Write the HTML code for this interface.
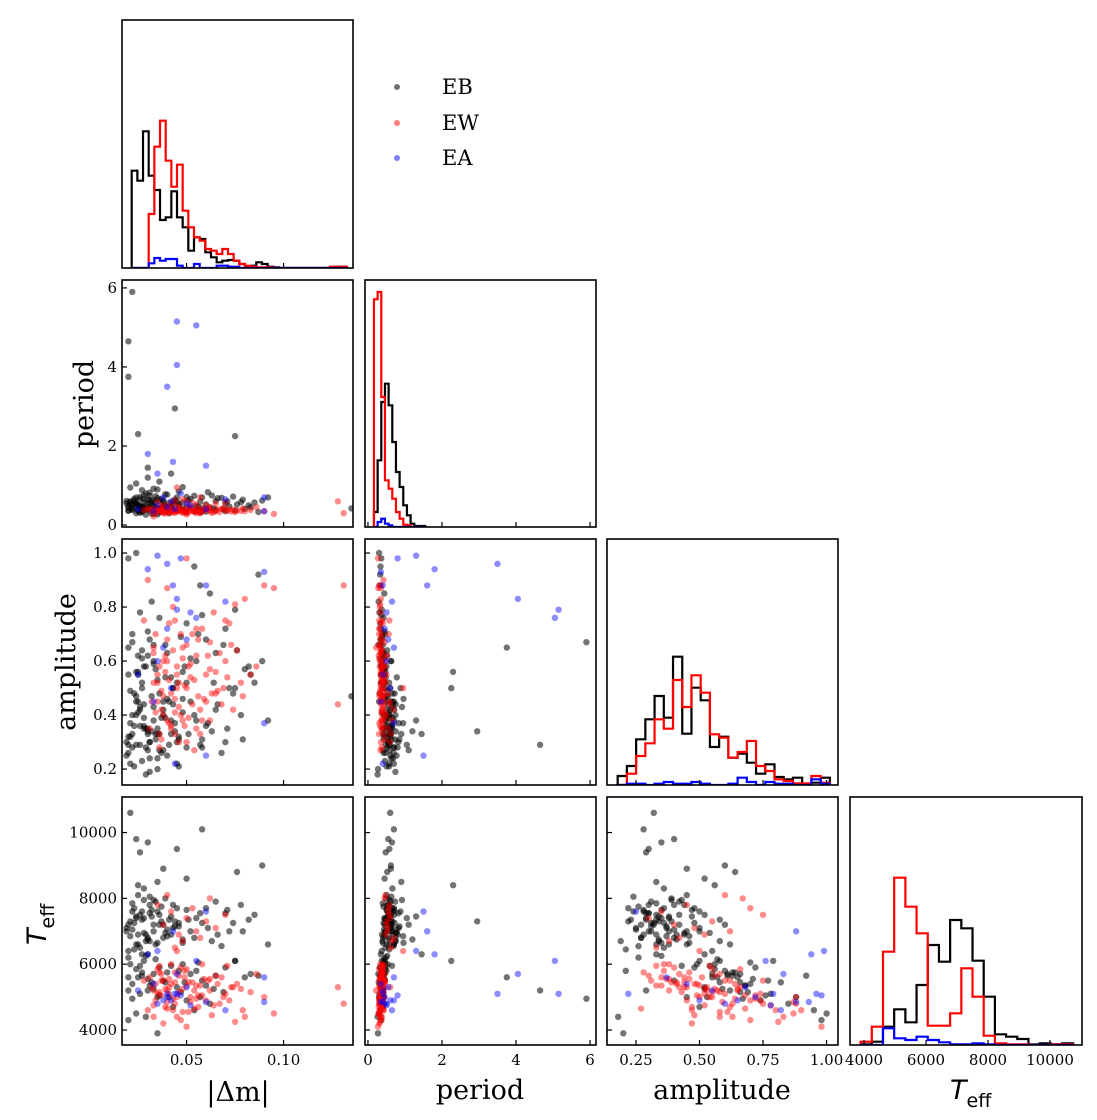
<!DOCTYPE html>
<html><head><meta charset="utf-8"><title>Corner plot</title>
<style>
html,body{margin:0;padding:0;background:#fff;}
svg{display:block;}
.tl{font-family:"DejaVu Serif","Liberation Serif",serif;font-size:15px;fill:#000;}
.al{font-family:"DejaVu Serif","Liberation Serif",serif;font-size:27px;fill:#000;}
.lg{font-family:"DejaVu Serif","Liberation Serif",serif;font-size:21px;fill:#000;}
</style></head>
<body>
<svg id="chart" width="1097" height="1120" viewBox="0 0 1097 1120" xmlns="http://www.w3.org/2000/svg">
<g id="legend">
  <g><circle cx="397" cy="87" r="3" fill="#000" fill-opacity="0.55"/><text class="lg" x="442" y="94">EB</text></g>
  <g><circle cx="397" cy="123" r="3" fill="#f00" fill-opacity="0.5"/><text class="lg" x="442" y="130">EW</text></g>
  <g><circle cx="397" cy="158" r="3" fill="#00f" fill-opacity="0.5"/><text class="lg" x="442" y="165">EA</text></g>
</g>
<text class="al" x="238" y="1101" text-anchor="middle">|Δm|</text>
<text class="al" x="480" y="1099" text-anchor="middle">period</text>
<text class="al" x="722" y="1099" text-anchor="middle">amplitude</text>
<text x="950" y="1099" font-family="DejaVu Sans,Liberation Sans,sans-serif" font-size="27" font-style="italic">T<tspan font-style="normal" font-size="19" dy="8">eff</tspan></text>
<text class="al" transform="translate(93,404) rotate(-90)" text-anchor="middle">period</text>
<text class="al" transform="translate(75,662) rotate(-90)" text-anchor="middle">amplitude</text>
<text transform="translate(46,945) rotate(-90)" font-family="DejaVu Sans,Liberation Sans,sans-serif" font-size="27" font-style="italic">T<tspan font-style="normal" font-size="19" dy="8">eff</tspan></text>
</svg>
<script>
// ---- data: objects [|dm|, period, amplitude, Teff] ----
const classes = ['EB','EW','EA'];
const ebRows = [
[0.020,0.45,0.32,7200],[0.022,0.52,0.28,7600],[0.025,0.38,0.41,6900],[0.019,0.61,0.25,7100],[0.028,0.44,0.35,7400],[0.031,0.55,0.30,7800],[0.024,0.70,0.45,6600],[0.033,0.48,0.38,7000],[0.027,0.35,0.52,6300],[0.021,0.58,0.22,7300],
[0.036,0.62,0.33,7500],[0.030,0.41,0.27,6800],[0.023,0.66,0.48,7700],[0.038,0.50,0.42,7200],[0.026,0.47,0.36,6500],[0.034,0.73,0.31,7900],[0.029,0.39,0.58,6700],[0.041,0.56,0.29,7350],[0.022,0.43,0.40,7050],[0.035,0.68,0.24,7600],
[0.040,0.45,0.46,6850],[0.032,0.59,0.34,7450],[0.025,0.51,0.62,6600],[0.044,0.64,0.37,7150],[0.037,0.42,0.26,7750],[0.028,0.75,0.44,6950],[0.046,0.53,0.32,7250],[0.020,0.37,0.55,6400],[0.039,0.49,0.39,8000],[0.031,0.82,0.30,7550],
[0.048,0.57,0.41,6750],[0.027,0.46,0.23,7350],[0.043,0.60,0.50,7100],[0.035,0.40,0.35,6650],[0.050,0.71,0.28,7650],[0.024,0.54,0.47,7450],[0.042,0.44,0.33,6900],[0.033,0.63,0.60,7200],[0.055,0.48,0.38,7400],[0.038,0.58,0.27,6800],
[0.052,0.66,0.45,7000],[0.060,0.52,0.36,7700],[0.058,0.42,0.31,7250],[0.065,0.61,0.42,7900],[0.070,0.55,0.30,7550],[0.072,0.47,0.50,7000],[0.063,0.75,0.34,6700],[0.078,0.58,0.40,7800],[0.082,0.50,0.58,7350],[0.068,0.69,0.26,6550],
[0.021,0.60,0.32,10600],[0.024,0.55,0.40,9800],[0.026,0.48,0.29,9400],[0.030,0.65,0.35,9700],[0.045,0.58,0.30,9500],[0.058,0.70,0.28,10100],[0.038,0.62,0.45,8900],[0.050,0.45,0.52,8600],[0.089,0.62,0.60,9000],[0.076,0.52,0.64,8800],[0.035,0.90,0.33,8500],[0.028,0.66,0.36,8300],
[0.025,0.35,0.55,5600],[0.030,0.40,0.62,5200],[0.036,0.32,0.48,5900],[0.022,0.38,0.70,5400],[0.041,0.30,0.45,5000],[0.028,0.42,0.58,6100],[0.045,0.36,0.52,5300],[0.033,0.28,0.66,5700],[0.050,0.33,0.74,4900],[0.038,0.45,0.40,5500],
[0.055,0.37,0.60,5800],[0.026,0.31,0.78,5100],[0.048,0.40,0.56,6000],[0.060,0.34,0.68,5350],[0.032,0.29,0.82,5450],[0.043,0.39,0.50,4700],[0.065,0.38,0.63,5650],[0.070,0.35,0.72,5900],[0.080,0.41,0.57,5600],[0.087,0.33,0.92,5650],
[0.020,0.36,0.98,4300],[0.024,0.30,1.00,4500],[0.062,0.44,0.85,4800],[0.057,0.32,0.88,5000],[0.029,0.26,0.18,4400],[0.035,0.27,0.20,3900],[0.046,0.50,0.21,5800],[0.054,0.34,0.95,4600],[0.075,0.37,0.79,6100],[0.135,0.42,0.47,null],
[0.022,5.90,0.67,4950],[0.020,4.65,0.29,5200],[0.020,3.75,0.65,5600],[0.044,2.95,0.34,7300],[0.025,2.30,0.56,8400],[0.075,2.25,0.50,6100],[0.030,1.45,0.33,6300],
[0.019,0.55,0.30,7000],[0.023,0.62,0.36,7250],[0.026,0.71,0.42,7500],[0.029,0.80,0.28,6900],[0.032,0.50,0.47,7650],[0.034,0.58,0.33,6600],[0.037,0.66,0.39,7300],[0.040,0.77,0.25,7050],[0.043,0.53,0.44,7800],[0.046,0.85,0.31,7150],
[0.021,0.95,0.37,6850],[0.024,1.05,0.29,7400],[0.027,0.88,0.50,7600],[0.030,1.20,0.34,6750],[0.033,0.92,0.43,7950],[0.036,1.10,0.27,7200],[0.039,0.78,0.54,6950],[0.042,1.30,0.38,7450],[0.045,0.70,0.22,7700],[0.048,0.96,0.46,6650],
[0.051,0.62,0.33,7350],[0.054,0.74,0.40,6800],[0.057,0.59,0.29,7550],[0.061,0.83,0.37,7100],[0.066,0.68,0.44,6900],[0.071,0.60,0.35,7650],[0.074,0.72,0.48,7250],[0.079,0.64,0.31,7000],[0.085,0.57,0.52,7500],[0.092,0.70,0.38,6600],
[0.020,0.48,0.26,6200],[0.023,0.57,0.21,6450],[0.026,0.65,0.43,5950],[0.029,0.52,0.35,6250],[0.031,0.74,0.19,6700],[0.034,0.45,0.57,6150],[0.022,0.40,0.33,7850],[0.025,0.50,0.45,8100],[0.028,0.58,0.39,7950],[0.031,0.63,0.24,8050],
[0.027,0.38,0.64,5750],[0.030,0.45,0.71,5550],[0.033,0.36,0.59,5250],[0.036,0.42,0.76,5050],[0.039,0.34,0.66,5450],[0.042,0.48,0.54,5950],[0.047,0.39,0.69,5150],[0.052,0.44,0.61,5700],[0.058,0.36,0.77,5500],[0.064,0.42,0.52,5250],
[0.021,0.53,0.49,6000],[0.024,0.47,0.56,5850],[0.027,0.33,0.61,5650],[0.031,0.37,0.68,5350],[0.035,0.41,0.53,5000],[0.040,0.43,0.63,5750],[0.049,0.35,0.58,5450],[0.056,0.46,0.70,6050],[0.069,0.40,0.66,5150],[0.083,0.45,0.55,5700]
];
const ewRows = [
[0.032,0.35,0.45,5300],[0.035,0.38,0.52,5100],[0.038,0.32,0.60,5500],[0.040,0.36,0.38,5200],[0.034,0.30,0.70,4900],[0.042,0.40,0.48,5400],[0.045,0.34,0.55,5000],[0.037,0.37,0.42,5700],[0.048,0.33,0.65,5250],[0.031,0.39,0.35,5600],
[0.044,0.31,0.75,4800],[0.050,0.36,0.50,5350],[0.036,0.42,0.58,5150],[0.053,0.35,0.44,5450],[0.039,0.29,0.62,4700],[0.047,0.38,0.40,5900],[0.056,0.33,0.68,5050],[0.041,0.44,0.53,5300],[0.059,0.37,0.46,5550],[0.043,0.32,0.80,4600],
[0.062,0.36,0.57,5200],[0.049,0.41,0.36,5800],[0.033,0.34,0.63,4400],[0.066,0.39,0.49,5400],[0.055,0.30,0.72,4950],[0.046,0.35,0.30,5650],[0.070,0.38,0.60,5100],[0.052,0.43,0.54,5000],[0.038,0.31,0.47,4200],[0.073,0.34,0.66,5300],
[0.058,0.40,0.38,6000],[0.036,0.37,0.28,5750],[0.064,0.33,0.78,4750],[0.044,0.46,0.41,5450],[0.078,0.36,0.52,5250],[0.051,0.32,0.58,4550],[0.040,0.35,0.87,4850],[0.068,0.41,0.44,5600],[0.083,0.38,0.55,5150],[0.057,0.30,0.33,5350],
[0.047,0.36,0.70,4300],[0.061,0.42,0.62,5500],[0.035,0.39,0.55,5850],[0.090,0.35,0.88,5000],[0.054,0.34,0.27,4650],[0.072,0.40,0.74,4900],[0.042,0.33,0.36,6000],[0.076,0.37,0.64,5400],[0.063,0.31,0.48,4450],[0.086,0.45,0.58,5700],
[0.038,0.50,0.40,7200],[0.042,0.55,0.35,7600],[0.046,0.48,0.52,6900],[0.050,0.60,0.30,7400],[0.035,0.58,0.45,7800],[0.055,0.52,0.62,7000],[0.048,0.65,0.38,6700],[0.060,0.50,0.55,7300],[0.053,0.56,0.70,7700],[0.044,0.62,0.33,6500],[0.065,0.54,0.48,7100],[0.040,0.47,0.60,8100],[0.057,0.70,0.42,6800],[0.070,0.58,0.75,7500],[0.062,0.45,0.67,8000],
[0.128,0.60,0.44,5300],[0.131,0.30,0.88,4800],[0.095,0.28,0.87,4500],[0.080,0.35,0.83,4400],[0.030,0.42,0.90,4600],[0.075,0.33,0.81,4250],[0.028,0.38,0.75,5500],[0.033,0.22,0.65,5200],[0.045,0.95,0.50,6400],[0.050,0.27,0.98,4100],
[0.034,0.36,0.41,5400],[0.037,0.33,0.49,5050],[0.039,0.40,0.56,5250],[0.041,0.31,0.37,5550],[0.043,0.37,0.64,4950],[0.046,0.42,0.43,5150],[0.049,0.34,0.51,5600],[0.052,0.38,0.59,4850],[0.055,0.36,0.35,5350],[0.058,0.33,0.72,5050],
[0.036,0.43,0.33,5950],[0.040,0.39,0.68,4650],[0.044,0.35,0.46,5750],[0.048,0.31,0.61,4550],[0.051,0.45,0.39,5450],[0.054,0.37,0.53,5200],[0.060,0.40,0.45,4900],[0.065,0.35,0.56,5650],[0.069,0.43,0.50,5000],[0.074,0.39,0.42,5300],
[0.033,0.40,0.52,4750],[0.037,0.46,0.31,5500],[0.041,0.34,0.74,5100],[0.045,0.38,0.58,4400],[0.050,0.30,0.66,5850],[0.056,0.41,0.47,4700],[0.062,0.37,0.38,5550],[0.067,0.33,0.63,4800],[0.071,0.36,0.54,5950],[0.079,0.42,0.47,4600]
];
const eaRows = [
[0.045,5.15,0.79,5100],[0.055,5.05,0.76,6100],[0.045,4.05,0.83,5700],[0.040,3.50,0.96,5100],[0.043,1.60,0.88,7000],[0.090,0.70,0.37,5600],[0.035,1.30,0.99,6400],[0.030,1.80,0.94,6300],[0.060,1.50,0.25,7600],[0.025,0.40,0.55,5200],
[0.035,0.50,0.60,4800],[0.040,0.45,0.72,5000],[0.042,0.60,0.50,4900],[0.050,0.55,0.68,5300],[0.070,0.65,0.82,4600],[0.044,0.40,0.22,5100],[0.052,0.50,0.78,4750],[0.038,0.70,0.65,4900],[0.033,0.35,0.45,5400],[0.047,0.80,0.98,5050],[0.060,0.40,0.88,4850],[0.090,0.35,0.93,4850]
];
// ---- histogram data (bin start, bin width, counts per class) ----
const dmBins = [0.0217, 0.00292];
const dmHistEB = [292,262,410,277,234,144,152,230,152,122,52,92,87,47,32,17,22,24,22,12,4,7,17,12,4,2,0,0,0,0,0,0,0,0,0,0,4,4];
const dmHistEW = [0,0,0,162,364,442,322,244,310,172,122,92,82,57,52,42,57,42,22,12,7,4,2,2,2,0,0,0,0,0,0,0,0,0,0,4,4,4];
const dmHistEA = [0,0,0,14,30,22,27,27,7,0,0,12,0,0,0,7,7,4,4,0,0,0,0,0,0,0,0,0,0,0,0,0,0,0,0,0,0,0];
const pBins = [0.162, 0.099];
const pHistEB = [45,200,375,430,365,255,165,120,65,35,10,3,3,3];
const pHistEW = [683,705,390,140,115,85,45,25,7,5,0,0,0,0];
const pHistEA = [0,15,25,10,5,0,0,0,0,0,0,0,0,0];
const aBins = [0.178, 0.0363];
const aHistEB = [27,57,137,197,267,202,385,154,292,254,114,145,82,94,67,34,62,24,17,22,2,7,22];
const aHistEW = [0,34,87,125,197,169,315,234,329,277,152,142,82,99,132,57,42,17,12,5,5,27,7];
const aHistEA = [0,4,4,0,4,9,4,4,9,4,0,0,4,22,9,0,9,4,4,0,0,17,4];
const tBins = [3890, 361];
const tHistEB = [2,10,55,107,68,180,300,250,375,350,253,145,32,25,18,2,5,2,5];
const tHistEW = [10,55,280,502,415,335,58,58,95,230,145,28,5,2,2,0,0,2,2];
const tHistEA = [0,0,50,20,15,25,15,8,2,2,5,2,0,0,0,0,0,0,0];
const histMax = [744, 741, 738, 744];
// ---- tick labels ----
const xTicks = [[0.05,0.10],[0,2,4,6],[0.25,0.50,0.75,1.00],[4000,6000,8000,10000]];
const xTickLabels = [['0.05','0.10'],['0','2','4','6'],['0.25','0.50','0.75','1.00'],['4000','6000','8000','10000']];
const yTicks = [[],[0,2,4,6],[0.2,0.4,0.6,0.8,1.0],[4000,6000,8000,10000]];
const yTickLabels = [[],['0','2','4','6'],['0.2','0.4','0.6','0.8','1.0'],['4000','6000','8000','10000']];

// ---- layout ----
const NS='http://www.w3.org/2000/svg';
const svg=document.getElementById('chart');
const colPx=[[122,353],[365,596],[607,838],[850,1082]];
const rowPx=[[20,268],[280,527],[539,785],[797,1045]];
const xDom=[[0.0167,0.1358],[-0.08,6.16],[0.136,1.045],[3548,11032]];
const yDom=[null,[-0.05,6.2],[0.141,1.052],[3544,11080]];
const names=['dm','period','amplitude','teff'];
function xs(v,c){const d=xDom[c],p=colPx[c];return p[0]+(v-d[0])/(d[1]-d[0])*(p[1]-p[0]);}
function ys(v,r){const d=yDom[r],p=rowPx[r];return p[1]-(v-d[0])/(d[1]-d[0])*(p[1]-p[0]);}
function mk(tag,attrs,parent){const e=document.createElementNS(NS,tag);for(const k in attrs)e.setAttribute(k,attrs[k]);(parent||svg).appendChild(e);return e;}
const colors={EB:['#000',0.55],EW:['#f00',0.45],EA:['#00f',0.45]};
const rowsBy={EB:ebRows,EW:ewRows,EA:eaRows};
const histBy=[[dmBins,{EB:dmHistEB,EW:dmHistEW,EA:dmHistEA}],[pBins,{EB:pHistEB,EW:pHistEW,EA:pHistEA}],[aBins,{EB:aHistEB,EW:aHistEW,EA:aHistEA}],[tBins,{EB:tHistEB,EW:tHistEW,EA:tHistEA}]];

for(let r=0;r<4;r++){for(let c=0;c<=r;c++){
  const g=mk('g',{});
  
  
  const [x0,x1]=colPx[c],[y0,y1]=rowPx[r];
  const cid='clip'+r+c;
  const cp=mk('clipPath',{id:cid},g);mk('rect',{x:x0,y:y0,width:x1-x0,height:y1-y0},cp);
  const inner=mk('g',{'clip-path':'url(#'+cid+')'},g);
  if(r===c){
    const [bins,hs]=histBy[c];
    ['EB','EW','EA'].forEach(cls=>{
      const counts=hs[cls];
      let d='M'+xs(bins[0],c)+','+y1;
      counts.forEach((n,i)=>{const xa=xs(bins[0]+i*bins[1],c),xb=xs(bins[0]+(i+1)*bins[1],c);const yy=y1-n/histMax[c]*(y1-y0);d+=' L'+xa+','+yy+' L'+xb+','+yy;});
      d+=' L'+xs(bins[0]+counts.length*bins[1],c)+','+y1;
      const p=mk('path',{d:d,fill:'none',stroke:colors[cls][0],'stroke-width':2.2,'stroke-linejoin':'miter'},inner);
      
      
    });
  } else {
    ['EB','EW','EA'].forEach(cls=>{
      rowsBy[cls].forEach(o=>{
        const vx=o[c],vy=o[r];if(vx==null||vy==null)return;
        const pt=mk('circle',{cx:xs(vx,c).toFixed(1),cy:ys(vy,r).toFixed(1),r:3.2,fill:colors[cls][0],'fill-opacity':colors[cls][1]},inner);
        
        
      });
    });
  }
  const fr=mk('rect',{x:x0,y:y0,width:x1-x0,height:y1-y0,fill:'none',stroke:'#000','stroke-width':1.6},g);
  
  
  xTicks[c].forEach((t,i)=>{
    const x=xs(t,c);
    mk('line',{x1:x,x2:x,y1:y1,y2:y1-5,stroke:'#000','stroke-width':1.2},g);
    if(r===3){const tx=mk('text',{x:x,y:y1+20,'text-anchor':'middle',class:'tl'},g);tx.textContent=xTickLabels[c][i];
      
      }
  });
  if(r>0 && r!==c){
    yTicks[r].forEach((t,i)=>{
      const y=ys(t,r);
      mk('line',{x1:x0,x2:x0+5,y1:y,y2:y,stroke:'#000','stroke-width':1.2},g);
      if(c===0){const ty=mk('text',{x:x0-5,y:y+5,'text-anchor':'end',class:'tl'},g);ty.textContent=yTickLabels[r][i];
        
        }
    });
  }
}}
</script>
</body></html>
